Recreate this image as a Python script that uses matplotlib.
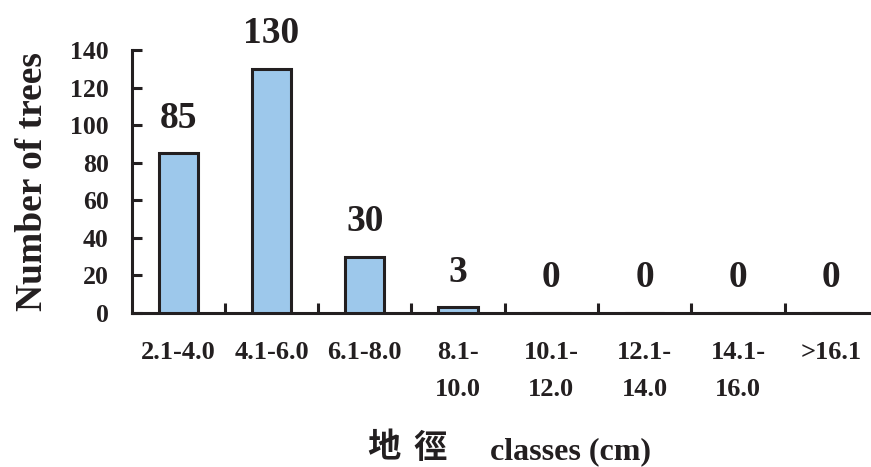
import matplotlib
matplotlib.use("Agg")
import matplotlib.pyplot as plt

# diameter classes and tree counts
classes = ["2.1-4.0", "4.1-6.0", "6.1-8.0", "8.1-\n10.0", "10.1-\n12.0",
           "12.1-\n14.0", "14.1-\n16.0", ">16.1"]
counts = [85, 130, 30, 3, 0, 0, 0, 0]
y_ticks = [0, 20, 40, 60, 80, 100, 120, 140]

ink = "#231f20"
plt.rcParams["font.family"] = ["Liberation Serif", "Noto Sans CJK TC"]
plt.rcParams["font.weight"] = "bold"

fig = plt.figure(figsize=(8.71, 4.67), dpi=100)
ax = fig.add_axes([0.151, 0.330, 0.857, 0.563])

x = list(range(len(classes)))
ax.bar(x, counts, width=0.42, color="#9DC8EB", edgecolor=ink,
       linewidth=2.2, zorder=3)

for xi, c in zip(x, counts):
    ax.annotate(str(c), (xi, c), xytext=(0, 18.5), textcoords="offset points",
                ha="center", va="baseline", fontsize=27, fontweight="bold",
                color=ink)

ax.set_xlim(-0.5, len(classes) - 0.5)
ax.set_ylim(0, 140)
ax.set_yticks(y_ticks)
ax.set_yticklabels([str(t) for t in y_ticks], fontsize=18.5, fontweight="bold",
                   color=ink)

# category labels centred under bars, ticks on the boundaries
ax.set_xticks([i + 0.5 for i in x[:-1]])
ax.set_xticklabels([])
ax.set_xticks(x, minor=True)
ax.set_xticklabels(classes, minor=True, fontsize=19, fontweight="bold",
                   color=ink, va="top", linespacing=1.78)
ax.tick_params(axis="x", which="minor", length=0, pad=20)
ax.tick_params(axis="x", which="major", direction="in", length=7, width=2.2,
               color=ink)
ax.tick_params(axis="y", direction="in", length=7, width=2.2,
               color=ink, pad=16.5)

for side in ["top", "right"]:
    ax.spines[side].set_visible(False)
for side in ["left", "bottom"]:
    ax.spines[side].set_linewidth(2.2)
    ax.spines[side].set_color(ink)

fig.text(0.037, 0.612, "Number of trees", rotation=90, ha="center",
         va="center", fontsize=27, fontweight="bold", color=ink)

# x axis title: Chinese part set a little larger and spaced out
fig.text(384 / 871, 0.038, "地", ha="center", va="center", fontsize=24,
         fontweight="bold", color=ink)
fig.text(430 / 871, 0.038, "徑", ha="center", va="center", fontsize=24,
         fontweight="bold", color=ink)
fig.text(570 / 871, 0.032, "classes (cm)", ha="center", va="center",
         fontsize=23, fontweight="bold", color=ink)

fig.savefig("out.png", dpi=100)
